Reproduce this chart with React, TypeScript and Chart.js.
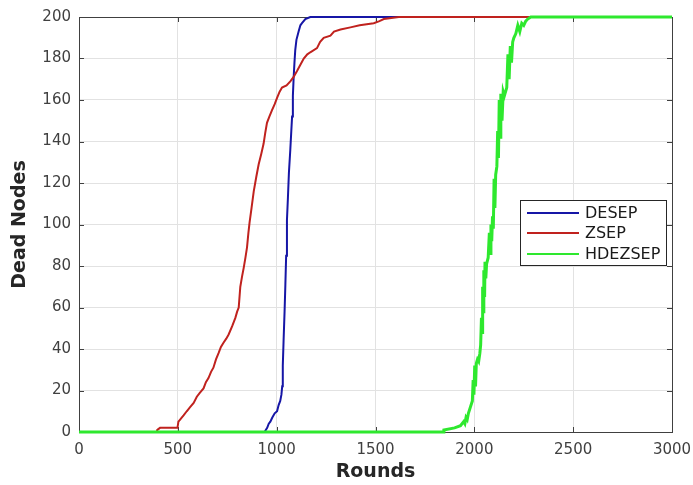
import React, { useEffect, useRef } from "react";
import { Chart, registerables } from "chart.js";

Chart.register(...registerables);

const seriesNames = ["DESEP", "ZSEP", "HDEZSEP"];
const seriesColors = ["#1616a6", "#c0221e", "#2ee82e"];
const seriesWidths = [2, 2, 3];

const desepRounds = [0, 939, 945, 952, 960, 968, 978, 990, 1002, 1010, 1018, 1024, 1028, 1031, 1035, 1040, 1044, 1048, 1052, 1057, 1062, 1069, 1074, 1078, 1082, 1086, 1090, 1094, 1100, 1111, 1120, 1128, 1145, 1170, 3000];
const desepDead = [0, 0, 1, 2, 4, 5, 7, 9, 10, 13, 15, 18, 22, 32, 44, 58, 71, 85, 102, 113, 125, 136, 145, 152, 162, 171, 178, 184, 189, 193, 196, 197, 199, 200, 200];

const zsepRounds = [0, 394, 396, 410, 498, 503, 529, 545, 562, 580, 596, 612, 630, 642, 655, 668, 680, 693, 706, 718, 731, 745, 757, 775, 791, 800, 808, 816, 825, 833, 842, 850, 857, 863, 873, 884, 897, 909, 922, 934, 942, 951, 963, 976, 990, 1002, 1015, 1027, 1050, 1069, 1085, 1103, 1120, 1137, 1155, 1170, 1204, 1220, 1238, 1272, 1290, 1323, 1373, 1420, 1491, 1520, 1542, 1618, 3000];
const zsepDead = [0, 0, 1, 2, 2, 5, 8, 10, 12, 14, 17, 19, 21, 24, 26, 29, 31, 35, 38, 41, 43, 45, 47, 51, 55, 58, 60, 70, 75, 79, 84, 89, 96, 101, 108, 116, 123, 129, 134, 139, 144, 149, 152, 155, 158, 161, 164, 166, 167, 169, 171, 174, 177, 180, 182, 183, 185, 188, 190, 191, 193, 194, 195, 196, 197, 198, 199, 200, 200];

const hdezRounds = [0, 1845, 1846, 1900, 1930, 1946, 1952, 1958, 1964, 1970, 1980, 1990, 1994, 1998, 2002, 2006, 2010, 2016, 2022, 2028, 2032, 2036, 2040, 2042, 2046, 2048, 2052, 2054, 2058, 2062, 2070, 2076, 2080, 2084, 2088, 2092, 2096, 2100, 2104, 2108, 2114, 2118, 2122, 2126, 2130, 2134, 2140, 2146, 2152, 2164, 2170, 2176, 2182, 2188, 2194, 2200, 2210, 2220, 2230, 2240, 2250, 2260, 2270, 2286, 3000];
const hdezDead = [0, 0, 1, 2, 3, 5, 4, 7, 6, 9, 12, 15, 25, 18, 32, 22, 33, 35, 34, 38, 42, 55, 48, 70, 58, 78, 65, 82, 74, 81, 84, 96, 86, 100, 92, 104, 98, 122, 108, 124, 128, 145, 132, 160, 142, 163, 150, 164, 162, 166, 182, 170, 186, 178, 188, 190, 192, 196, 193, 197, 196, 198, 199, 200, 200];

const xTickValues = [0, 500, 1000, 1500, 2000, 2500, 3000];
const yTickValues = [0, 20, 40, 60, 80, 100, 120, 140, 160, 180, 200];

const FONT = "'DejaVu Sans', 'Liberation Sans', Arial, sans-serif";

const boxPlugin = {
  id: "matlabBox",
  beforeDatasetsDraw(chart: any) {
    const { ctx, chartArea: a, scales } = chart;
    ctx.save();
    ctx.strokeStyle = "#404040";
    ctx.lineWidth = 1;
    const tl = 5;
    ctx.beginPath();
    for (const v of xTickValues) {
      const px = Math.round(scales.x.getPixelForValue(v)) + 0.5;
      ctx.moveTo(px, a.bottom);
      ctx.lineTo(px, a.bottom - tl);
      ctx.moveTo(px, a.top);
      ctx.lineTo(px, a.top + tl);
    }
    for (const v of yTickValues) {
      const py = Math.round(scales.y.getPixelForValue(v)) + 0.5;
      ctx.moveTo(a.left, py);
      ctx.lineTo(a.left + tl, py);
      ctx.moveTo(a.right, py);
      ctx.lineTo(a.right - tl, py);
    }
    ctx.stroke();
    ctx.strokeRect(Math.round(a.left) + 0.5, Math.round(a.top) + 0.5, Math.round(a.right - a.left), Math.round(a.bottom - a.top));
    ctx.restore();
  },
};

const legendPlugin = {
  id: "boxLegend",
  afterDraw(chart: any) {
    const { ctx } = chart;
    const x0 = 520, y0 = 200, w = 146, h = 65;
    ctx.save();
    ctx.fillStyle = "#ffffff";
    ctx.fillRect(x0, y0, w, h);
    ctx.strokeStyle = "#262626";
    ctx.lineWidth = 1;
    ctx.strokeRect(x0 + 0.5, y0 + 0.5, w, h);
    const rows = [213, 233, 254];
    chart.data.datasets.forEach((ds: any, i: number) => {
      const y = rows[i];
      ctx.strokeStyle = ds.borderColor;
      ctx.lineWidth = 2;
      ctx.beginPath();
      ctx.moveTo(527, y);
      ctx.lineTo(579, y);
      ctx.stroke();
      ctx.fillStyle = "#1a1a1a";
      ctx.font = `16px ${FONT}`;
      ctx.textBaseline = "middle";
      ctx.textAlign = "left";
      ctx.fillText(ds.label, 585, y + 1);
    });
    ctx.restore();
  },
};

function toPoints(xs: number[], ys: number[]) {
  return xs.map((x, i) => ({ x, y: ys[i] }));
}

export default function App() {
  const ref = useRef<HTMLCanvasElement | null>(null);
  useEffect(() => {
    if (!ref.current) return;
    const allRounds = [desepRounds, zsepRounds, hdezRounds];
    const allDead = [desepDead, zsepDead, hdezDead];
    const chart = new Chart(ref.current, {
      type: "line",
      data: {
        datasets: seriesNames.map((name, i) => ({
          label: name,
          data: toPoints(allRounds[i], allDead[i]),
          borderColor: seriesColors[i],
          backgroundColor: seriesColors[i],
          borderWidth: seriesWidths[i],
          pointRadius: 0,
          tension: 0,
          fill: false,
          clip: 4,
          order: 2 - i,
        })),
      },
      options: {
        animation: false,
        responsive: false,
        devicePixelRatio: 1,
        layout: { padding: { left: 0, right: 21, top: 17, bottom: 0 } },
        plugins: { legend: { display: false }, tooltip: { enabled: false } },
        scales: {
          x: {
            type: "linear",
            min: 0,
            max: 3000,
            afterBuildTicks: (s: any) => { s.ticks = xTickValues.map((v) => ({ value: v })); },
            afterFit: (s: any) => { s.height = 53; s.paddingLeft = 0; s.paddingRight = 0; },
            grid: { color: "#e2e2e2", drawTicks: false },
            border: { display: false },
            ticks: { padding: 9, color: "#404040", font: { family: FONT, size: 15 }, callback: (v: any) => String(v) },
            title: { display: true, text: "Rounds", color: "#262626", font: { family: FONT, size: 19, weight: "bold" }, padding: { top: 0, bottom: 2 } },
          },
          y: {
            type: "linear",
            min: 0,
            max: 200,
            afterBuildTicks: (s: any) => { s.ticks = yTickValues.map((v) => ({ value: v })); },
            afterFit: (s: any) => { s.width = 79; s.paddingTop = 0; s.paddingBottom = 0; },
            grid: { color: "#e2e2e2", drawTicks: false },
            border: { display: false },
            ticks: { padding: 8, color: "#404040", font: { family: FONT, size: 15 }, callback: (v: any) => String(v) },
            title: { display: true, text: "Dead Nodes", color: "#262626", font: { family: FONT, size: 19, weight: "bold" }, padding: { top: 9, bottom: 0 } },
          },
        },
      },
      plugins: [boxPlugin, legendPlugin],
    } as any);
    return () => chart.destroy();
  }, []);
  return (
    <div style={{ position: "absolute", left: 0, top: 0, width: 693, height: 485, background: "#fff" }}>
      <canvas ref={ref} width={693} height={485} style={{ display: "block", width: 693, height: 485 }} />
    </div>
  );
}
